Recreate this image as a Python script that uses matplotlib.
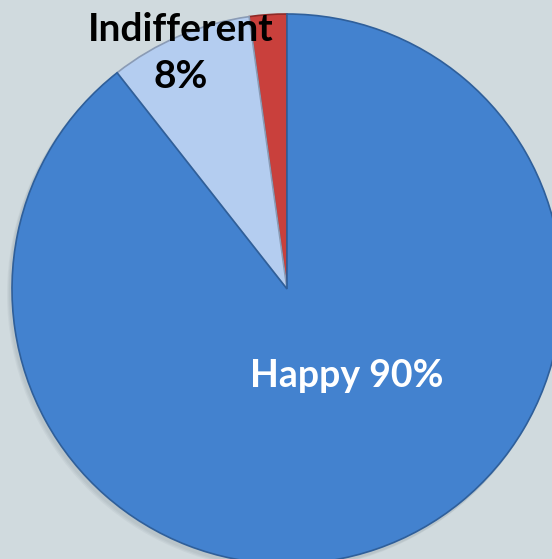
import matplotlib.pyplot as plt

labels = ['', 'Indifferent\n8%', 'Happy 90%']
shares = [2.2, 8.4, 89.4]
colors = ['#c9403c', '#b4cdf0', '#4382cf']
edges = ['#8e2a27', '#8a9bb5', '#2f5f9a']

fig = plt.figure(figsize=(5.52, 5.59), dpi=100)
fig.patch.set_facecolor('#d0dade')
ax = fig.add_axes([0, 0, 1, 1])

# soft shadow under the pie
for i in range(3):
    sh = plt.Circle((287 - 2 - i, 270 - 3 - i), 276, color='#3a4a5a', alpha=0.05, lw=0)
    ax.add_patch(sh)

wedges, _ = ax.pie(shares, colors=colors, startangle=90, counterclock=True,
                   center=(287, 270), radius=275, frame=True,
                   wedgeprops=dict(linewidth=1.2))
for w, ec in zip(wedges, edges):
    w.set_edgecolor(ec)
ax.set_xlim(0, 552)
ax.set_ylim(0, 559)
ax.set_aspect('equal')
ax.axis('off')

font = ['Lato', 'DejaVu Sans']
ax.text(181, 506, labels[1], ha='center', va='center', fontsize=28,
        fontweight='bold', color='black', family=font, linespacing=1.38)
ax.text(347, 183, labels[2], ha='center', va='center', fontsize=27,
        fontweight='bold', color='white', family=font)

plt.savefig('out.png', dpi=100, facecolor=fig.get_facecolor())
